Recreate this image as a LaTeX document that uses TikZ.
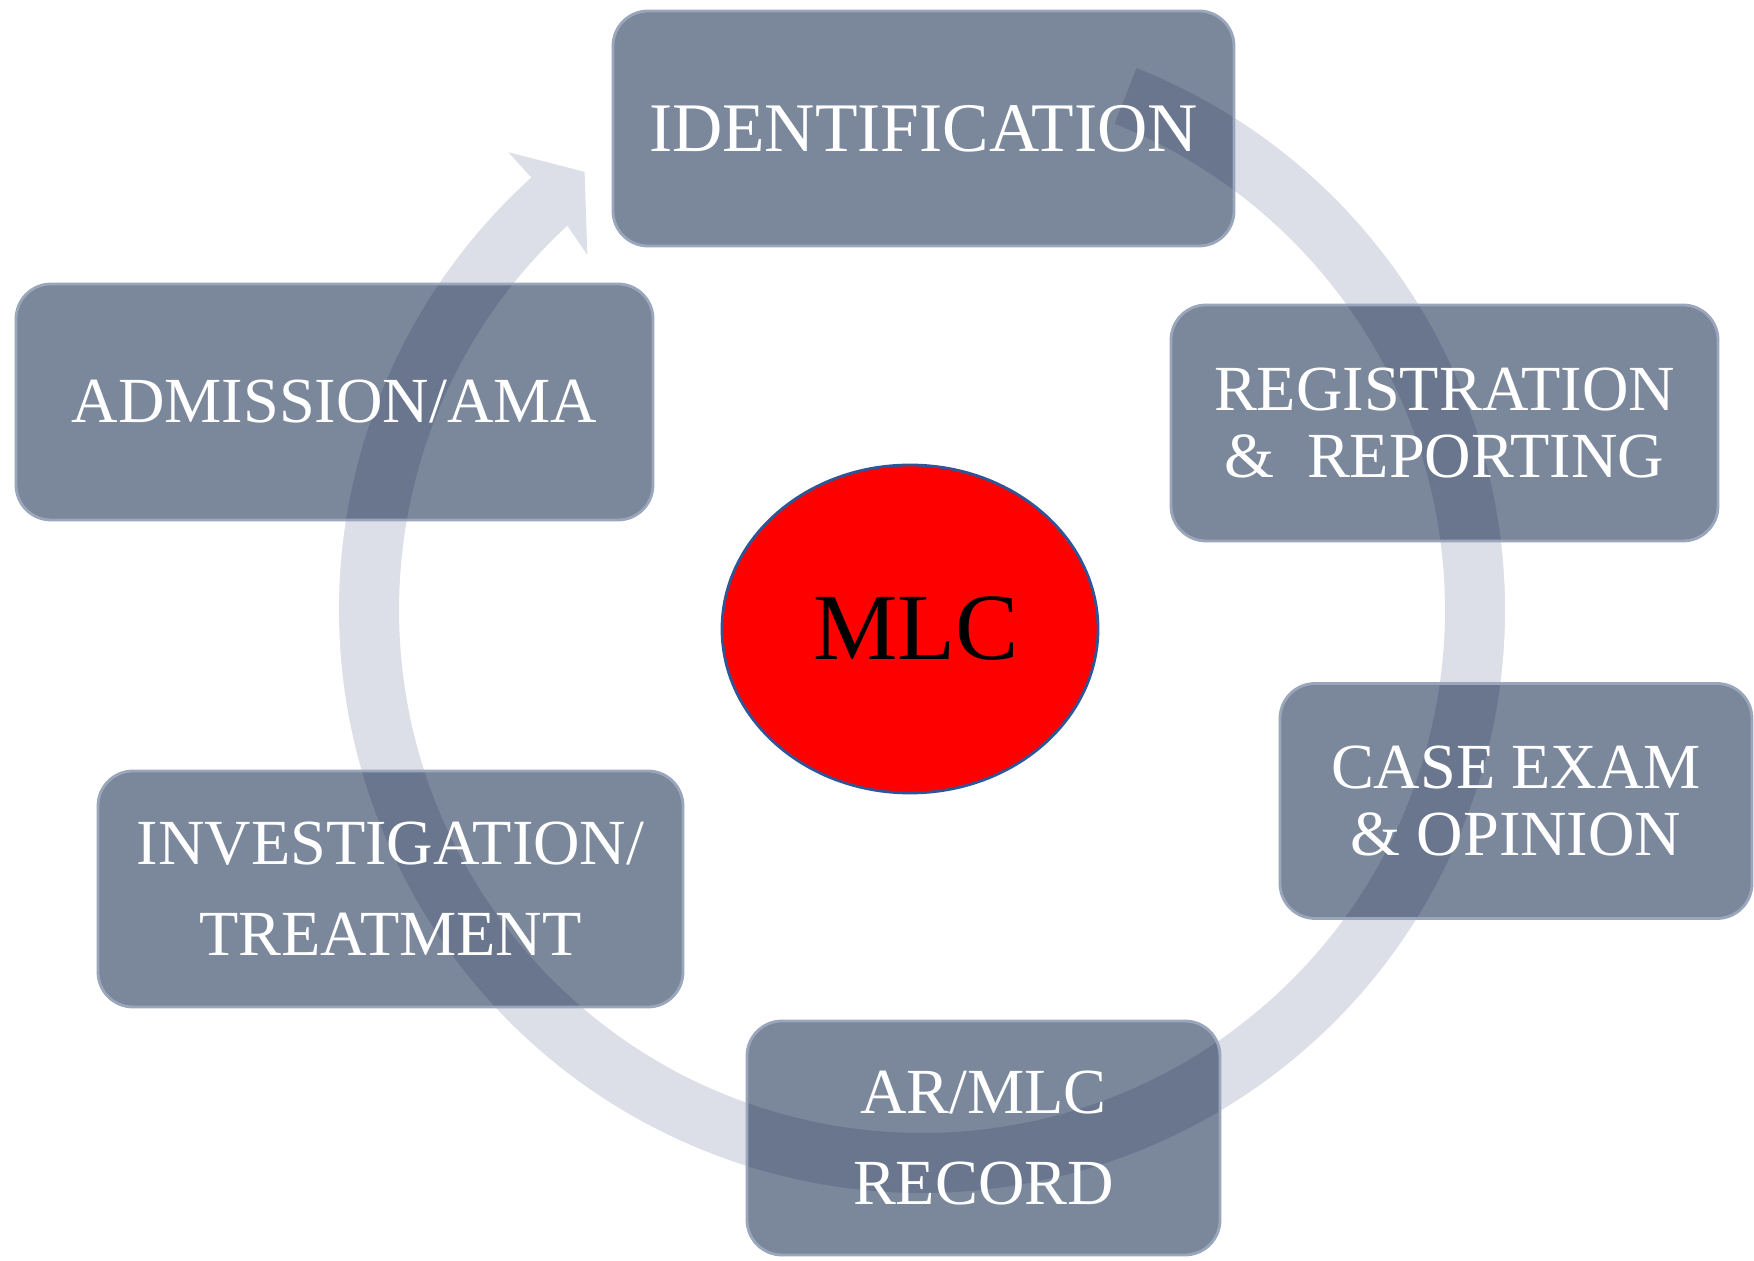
\documentclass[tikz,border=0pt]{standalone}
\usepackage{fontspec}
\setmainfont{Liberation Serif}
\usepackage{tikz}
\usetikzlibrary{shapes.geometric}
\definecolor{custom_box}{HTML}{7B889C}
\definecolor{custom_edge}{HTML}{9AA6BB}
\definecolor{custom_arrow}{HTML}{DCDEE8}
\definecolor{custom_ring}{HTML}{2F5597}
\definecolor{custom_red}{HTML}{FF0000}

\begin{document}
\begin{tikzpicture}[every node/.style={font=\fontsize{18.3}{19}\selectfont},
  stage/.style={rounded corners=0.35cm, draw=custom_edge, line width=0.8pt,
    preaction={fill=custom_box, blend mode=multiply},
    text=white, align=center, inner sep=0pt}]

  \useasboundingbox (0,0) rectangle (17.54,12.61);

  % circular arrow, clockwise round the centre
  \begin{scope}[shift={(9.22,6.51)}]
    \fill[custom_arrow] (68.4:5.84) arc[start angle=68.4, end angle=-227.9, radius=5.84]
    -- (-227.9:6.17) -- (-232.4:5.53) -- (-226.7:4.88) -- (-227.3:5.23)
    arc[start angle=-227.3, end angle=68.4, radius=5.23] -- cycle;
    \draw[white, line width=0.6pt] (68.4:5.84) arc[start angle=68.4, end angle=-227.9, radius=5.84];
  \end{scope}

  \node[stage, minimum width=6.21cm, minimum height=2.35cm, font=\fontsize{19.8}{20}\selectfont] (ident) at (9.235,11.325) {IDENTIFICATION};
  \node[stage, minimum width=5.47cm, minimum height=2.36cm] (regist) at (14.445,8.38)
  {REGISTRATION\\ \&\ \ REPORTING};
  \node[stage, minimum width=4.72cm, minimum height=2.35cm] (exam) at (15.16,4.60)
  {CASE EXAM\\ \& OPINION};
  \node[stage, minimum width=4.73cm, minimum height=2.34cm, font=\fontsize{18.3}{26}\selectfont] (record) at (9.835,1.23)
  {AR/MLC\\ RECORD};
  \node[stage, minimum width=5.85cm, minimum height=2.36cm, font=\fontsize{18.3}{26}\selectfont] (invest) at (3.905,3.72)
  {INVESTIGATION/\\ TREATMENT};
  \node[stage, minimum width=6.37cm, minimum height=2.36cm] (admit) at (3.345,8.59) {ADMISSION/AMA};

  \node[ellipse, draw=custom_ring, line width=0.8pt, fill=custom_red, inner sep=0pt,
  minimum width=3.76cm, minimum height=3.28cm, font=\fontsize{27}{27}\selectfont] (mlc) at (9.10,6.32) {\hspace{0.12cm}MLC};

\end{tikzpicture}
\end{document}
